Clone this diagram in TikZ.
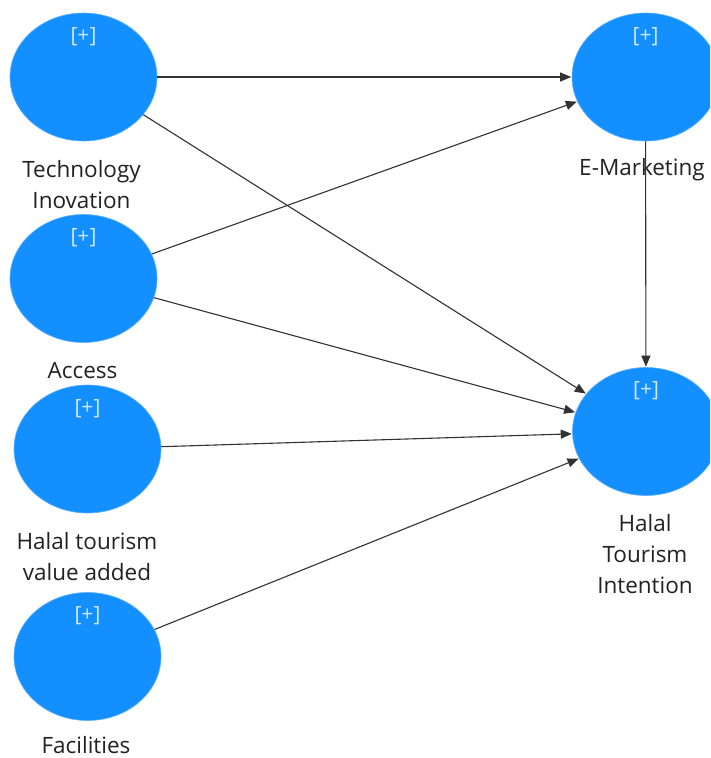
\documentclass[tikz,border=0pt]{standalone}
\usepackage{fontspec}
\setmainfont{Open Sans}
\usetikzlibrary{shapes.geometric,arrows.meta}
\definecolor{lvfill}{RGB}{20,143,255}
\definecolor{lvplus}{RGB}{210,232,255}
\definecolor{txt}{RGB}{34,34,34}
\definecolor{edge}{RGB}{50,50,50}
\tikzset{
  lv/.style={ellipse, fill=lvfill, draw=lvfill!70!white, line width=0.6pt, minimum width=147pt, minimum height=128pt, inner sep=0pt},
  plus/.style={text=lvplus, font=\fontsize{21}{24}\selectfont, inner sep=0pt},
  lab/.style={text=txt, font=\fontsize{22.5}{31}\selectfont, align=center, inner sep=0pt},
  path/.style={draw=edge, line width=1.1pt, -{Triangle[length=11pt,width=9pt]}, shorten >=0.5pt}
}
\begin{document}
\begin{tikzpicture}[x=1pt,y=-1pt]
\clip (0,0) rectangle (710,758);
\fill[white] (0,0) rectangle (710,758);
% latent variables
\node[lv] (ti) at (83.5,77) {};
\node[lv] (ac) at (83.5,278.5) {};
\node[lv] (hv) at (87.5,449) {};
\node[lv] (fa) at (87.5,656.5) {};
\node[lv] (em) at (645.5,77) {};
\node[lv] (hi) at (646,431.5) {};
% [+] markers
\node[plus] (tip) at ([yshift=-23.5pt]ti.north) {[+]};
\node[plus] (acp) at ([yshift=-23.5pt]ac.north) {[+]};
\node[plus] (hvp) at ([yshift=-23.5pt]hv.north) {[+]};
\node[plus] (fap) at ([yshift=-23.5pt]fa.north) {[+]};
\node[plus] (emp) at ([yshift=-23.5pt]em.north) {[+]};
\node[plus] (hip) at ([yshift=-23.5pt]hi.north) {[+]};
% labels
\node[lab] (til) at (81.5,185) {Technology\\Inovation};
\node[lab] (acl) at (82.5,371) {Access};
\node[lab] (hvl) at (87,557) {Halal tourism\\value added};
\node[lab] (fal) at (86,745.5) {Facilities};
\node[lab] (eml) at (642,170) {E-Marketing};
\node[lab] (hil) at (645,554) {Halal\\Tourism\\Intention};
% paths
\draw[path] (ti) -- (em);
\draw[path] (ti) -- (hi);
\draw[path] (ac) -- (em);
\draw[path] (ac) -- (hi);
\draw[path] (hv) -- (hi);
\draw[path] (fa) -- (hi);
\draw[path] (em) -- (hi);
\end{tikzpicture}
\end{document}
